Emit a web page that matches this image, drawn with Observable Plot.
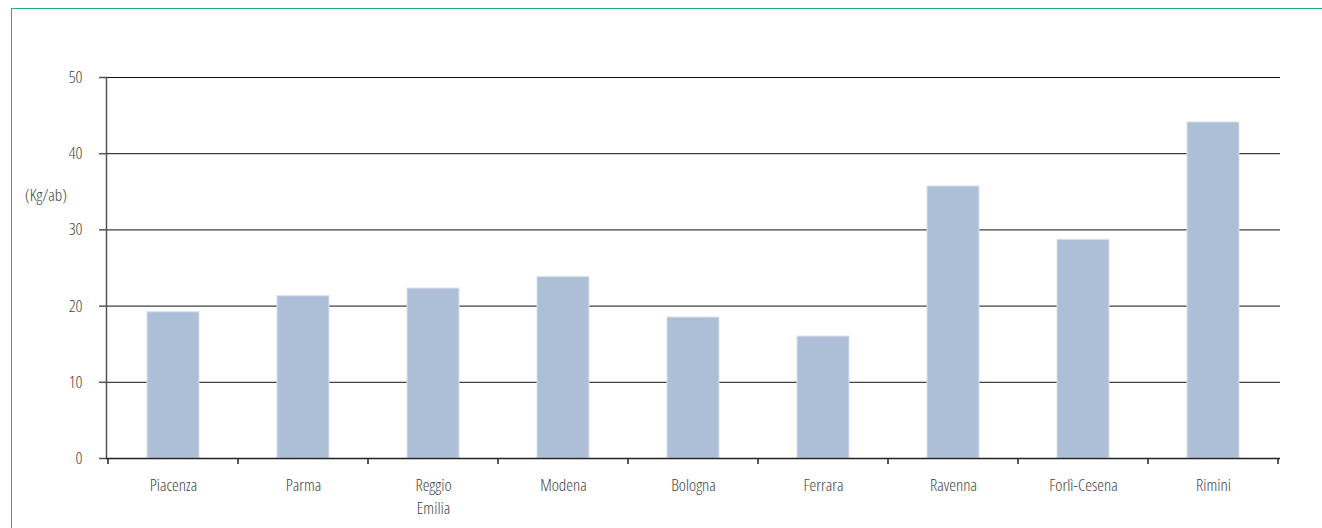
<!DOCTYPE html>
<html><head><meta charset="utf-8">
<script src="https://cdn.jsdelivr.net/npm/d3@7"></script>
<script src="https://cdn.jsdelivr.net/npm/@observablehq/plot@0.6"></script>
<style>
body{margin:0;background:#fff;}
#wrap{position:relative;width:1322px;height:528px;overflow:hidden;font-family:"Open Sans",sans-serif;font-stretch:75%;font-weight:300;}
#frame{position:absolute;left:11px;top:8px;width:1400px;height:600px;border-top:1.5px solid #22b37b;border-left:1.5px solid #22b37b;}
#unit{position:absolute;left:25px;top:183px;font-size:17px;line-height:23px;color:#444;}
#chart{position:absolute;left:0;top:0;}
</style></head><body>
<div id="wrap"><div id="frame"></div><div id="chart"></div><div id="unit"></div></div>
<script>
const provinces = ["Piacenza","Parma","Reggio Emilia","Modena","Bologna","Ferrara","Ravenna","Forlì-Cesena","Rimini"];
const values = [19.2, 21.3, 22.3, 23.8, 18.5, 16.0, 35.7, 28.7, 44.1];
const yTicks = [0, 10, 20, 30, 40, 50];
const unitLabel = "(Kg/ab)";

document.getElementById("unit").textContent = unitLabel;
const data = provinces.map((p, i) => ({province: p, value: values[i]}));
const font = '"Open Sans",sans-serif';

const chart = Plot.plot({
  width: 1322, height: 528,
  marginLeft: 106, marginRight: 42, marginTop: 77, marginBottom: 70,
  style: {fontFamily: font, fontStretch: "75%", fontWeight: 300, fontSize: "17px", color: "#444", background: "transparent"},
  x: {domain: provinces, paddingInner: 0.6, paddingOuter: 0.3, label: null},
  y: {domain: [0, 50], label: null},
  marks: [
    Plot.ruleY(yTicks.filter(t => t > 0), {stroke: "#111", strokeWidth: 1}),
    Plot.barY(data, {x: "province", y: "value", fill: "#adbfd6", stroke: "#d8e1ec", strokeWidth: 1}),
    Plot.axisY({ticks: yTicks, tickSize: 7, tickPadding: 17, stroke: "#555", strokeWidth: 1.5, label: null}),
    Plot.axisX({tickSize: 0, tickPadding: 16, label: null, tickFormat: d => d.replace(" ", "\n"), lineHeight: 1.36}),
    Plot.frame({anchor: "left", stroke: "#555", strokeWidth: 1.5}),
    Plot.ruleY([0], {stroke: "#222", strokeWidth: 1.5})
  ]
});

// boundary ticks between categories, derived from the band scale
const xs = chart.scale("x");
const ys = chart.scale("y");
const y0 = ys.apply(0);
const start = xs.apply(provinces[0]) - (xs.step - xs.bandwidth) / 2;
const g = d3.select(chart).append("g").attr("stroke", "#222").attr("stroke-width", 1.5);
for (let i = 0; i <= provinces.length; i++) {
  const x = start + i * xs.step;
  g.append("line").attr("x1", x).attr("x2", x).attr("y1", y0).attr("y2", y0 + 6);
}
document.getElementById("chart").appendChild(chart);
</script>
</body></html>
